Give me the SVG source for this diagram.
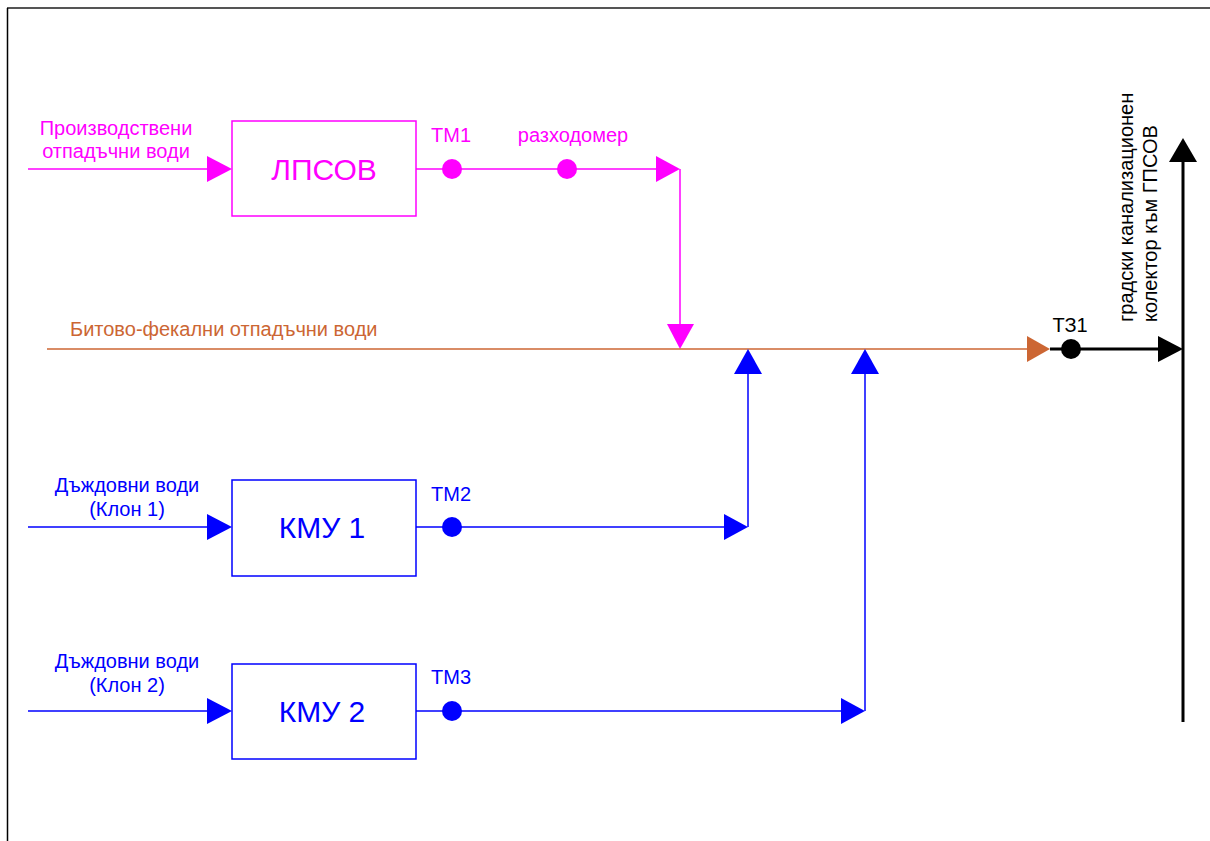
<svg xmlns="http://www.w3.org/2000/svg" width="1210" height="841" viewBox="0 0 1210 841">
<style>
text{font-family:"Liberation Sans",Arial,sans-serif;}
.m{stroke:#FF00FF;stroke-width:1.5;fill:none}
.b{stroke:#0000FF;stroke-width:1.5;fill:none}
.o{stroke:#CC6633;stroke-width:1.5;fill:none}
.k{stroke:#000;stroke-width:3;fill:none}
.mf{fill:#FF00FF}
.bf{fill:#0000FF}
.of{fill:#CC6633}
.kf{fill:#000}
.lbl{font-size:20px;text-anchor:middle}
.big{font-size:30px;text-anchor:middle}
.box-m{fill:#fff;stroke:#FF00FF;stroke-width:1.5}
.box-b{fill:#fff;stroke:#0000FF;stroke-width:1.5}
</style>
<rect width="1210" height="841" fill="#fff"/>
<g id="frame">
<line x1="7" y1="8" x2="1210" y2="8" stroke="#555" stroke-width="2"/>
<line x1="7.5" y1="8" x2="7.5" y2="841" stroke="#000" stroke-width="1.5"/>
</g>
<g id="connectors">
<line class="m" x1="28" y1="169" x2="210" y2="169"/>
<polygon class="mf" points="207,156 232,169 207,182"/>
<line class="m" x1="416" y1="169" x2="658" y2="169"/>
<polygon class="mf" points="656,156 680,169 656,182"/>
<line class="m" x1="680" y1="169" x2="680" y2="326"/>
<polygon class="mf" points="667,324 694,324 680,349"/>
<line class="o" x1="47" y1="349" x2="1030" y2="349"/>
<polygon class="of" points="1027,336 1050,349 1027,362"/>
<line class="k" x1="1050" y1="349" x2="1162" y2="349"/>
<polygon class="kf" points="1158,336 1183,349 1158,362"/>
<line class="k" x1="1183" y1="158" x2="1183" y2="722"/>
<polygon class="kf" points="1169,162 1183,138 1197,162"/>
<line class="b" x1="28" y1="527" x2="210" y2="527"/>
<polygon class="bf" points="207,514 232,527 207,540"/>
<line class="b" x1="416" y1="527" x2="728" y2="527"/>
<polygon class="bf" points="724,514 748,527 724,540"/>
<line class="b" x1="748" y1="527" x2="748" y2="370"/>
<polygon class="bf" points="734,374 748,349 762,374"/>
<line class="b" x1="28" y1="711" x2="210" y2="711"/>
<polygon class="bf" points="207,698 232,711 207,724"/>
<line class="b" x1="416" y1="711" x2="845" y2="711"/>
<polygon class="bf" points="841,698 865,711 841,724"/>
<line class="b" x1="865" y1="711" x2="865" y2="370"/>
<polygon class="bf" points="851,374 865,349 879,374"/>
</g>
<g id="lpsov">
<rect class="box-m" x="232" y="121" width="184" height="95"/>
<text class="big" x="324" y="180" fill="#FF00FF">ЛПСОВ</text>
</g>
<g id="in-prod">
<text class="lbl" x="116" y="135" fill="#FF00FF">Производствени</text>
<text class="lbl" x="116" y="158" fill="#FF00FF">отпадъчни води</text>
</g>
<g id="tm1">
<circle class="mf" cx="452" cy="169" r="10"/>
<text class="lbl" x="451" y="142" fill="#FF00FF">ТМ1</text>
</g>
<g id="flowmeter">
<circle class="mf" cx="567" cy="169" r="10"/>
<text class="lbl" x="573" y="142" fill="#FF00FF">разходомер</text>
</g>
<g id="domestic">
<text x="70" y="336" font-size="20" fill="#CC6633">Битово-фекални отпадъчни води</text>
</g>
<g id="kmu1">
<rect class="box-b" x="232" y="480" width="184" height="96"/>
<text class="big" x="322" y="538" fill="#0000FF">КМУ 1</text>
</g>
<g id="in-rain1">
<text class="lbl" x="127" y="492" fill="#0000FF">Дъждовни води</text>
<text class="lbl" x="127" y="516" fill="#0000FF">(Клон 1)</text>
</g>
<g id="tm2">
<circle class="bf" cx="452" cy="527" r="10"/>
<text class="lbl" x="451" y="501" fill="#0000FF">ТМ2</text>
</g>
<g id="kmu2">
<rect class="box-b" x="232" y="664" width="184" height="95"/>
<text class="big" x="322" y="722" fill="#0000FF">КМУ 2</text>
</g>
<g id="in-rain2">
<text class="lbl" x="127" y="668" fill="#0000FF">Дъждовни води</text>
<text class="lbl" x="127" y="692" fill="#0000FF">(Клон 2)</text>
</g>
<g id="tm3">
<circle class="bf" cx="452" cy="711" r="10"/>
<text class="lbl" x="451" y="684" fill="#0000FF">ТМ3</text>
</g>
<g id="tz1">
<circle class="kf" cx="1071" cy="349" r="10"/>
<text class="lbl" x="1070" y="332" fill="#000">ТЗ1</text>
</g>
<g id="collector">
<text transform="translate(1133,322) rotate(-90)" font-size="20" fill="#000">градски канализационен</text>
<text transform="translate(1157,322) rotate(-90)" font-size="20" fill="#000">колектор към ГПСОВ</text>
</g>
</svg>
